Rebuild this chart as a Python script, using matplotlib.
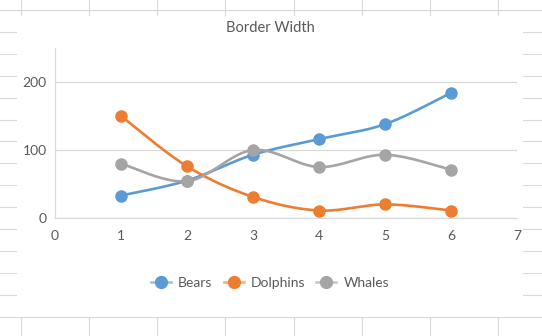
import numpy as np
import matplotlib
matplotlib.use("Agg")
from matplotlib import pyplot as plt
from matplotlib.lines import Line2D
from matplotlib.patches import Rectangle
from matplotlib.colors import to_rgba

x = [1, 2, 3, 4, 5, 6]
bears = [33, 55, 93, 116, 138, 184]
dolphins = [150, 76, 31, 11, 20, 11]
whales = [80, 54, 100, 75, 93, 71]

series = [("Bears", bears, "#5b9bd5"),
          ("Dolphins", dolphins, "#ed7d31"),
          ("Whales", whales, "#a5a5a5")]

W, H = 542, 336
TXT = "#595959"
GRID = "#d9d9d9"

plt.rcParams['font.family'] = ['Lato', 'DejaVu Sans']


def px(xp, yp):
    # pixel (from top-left) -> figure fraction
    return xp / W, 1 - yp / H


def smooth(xs, ys, n=30):
    # excel-like smoothed line (catmull-rom bezier between points)
    p = np.column_stack([xs, ys]).astype(float)
    p = np.vstack([p[0], p, p[-1]])
    out = []
    t = np.linspace(0, 1, n)[:, None]
    for i in range(1, len(p) - 2):
        p0, p1, p2, p3 = p[i - 1], p[i], p[i + 1], p[i + 2]
        c1 = p1 + (p2 - p0) / 6
        c2 = p2 - (p3 - p1) / 6
        seg = ((1 - t) ** 3) * p1 + 3 * ((1 - t) ** 2) * t * c1 \
            + 3 * (1 - t) * t ** 2 * c2 + t ** 3 * p2
        out.append(seg)
    out = np.vstack(out)
    return out[:, 0], out[:, 1]


fig = plt.figure(figsize=(W / 100, H / 100), dpi=100)

# spreadsheet cells behind the chart
for k in range(15):
    yy = 10 + 21.9 * k
    fig.add_artist(Line2D(*zip(px(0, yy), px(W, yy)), transform=fig.transFigure,
                          color=GRID, lw=0.8, zorder=-3))
for j in range(8):
    xx = 20.7 + 68.2 * j
    fig.add_artist(Line2D(*zip(px(xx, 0), px(xx, H)), transform=fig.transFigure,
                          color=GRID, lw=0.8, zorder=-3))
x0, y0 = px(17, 317)
x1, y1 = px(523, 16)
fig.add_artist(Rectangle((x0, y0), x1 - x0, y1 - y0, transform=fig.transFigure,
                         facecolor="white", edgecolor="none", zorder=-2))

l, b = px(55, 218)
r, t = px(517, 48)
ax = fig.add_axes([l, b, r - l, t - b])
ax.patch.set_alpha(0)

for name, vals, col in series:
    sx, sy = smooth(x, vals)
    ax.plot(sx, sy, color=col, lw=1.9, solid_capstyle="round", zorder=3)
    ax.plot(x, vals, "o", color=col, ms=8, zorder=4)

ax.set_xlim(0, 7)
ax.set_ylim(0, 250)
ax.set_xticks(range(8))
ax.set_yticks([0, 100, 200])
ax.grid(axis="y", color=GRID, lw=0.9)
ax.set_axisbelow(True)
for s in ["top", "right"]:
    ax.spines[s].set_visible(False)
for s in ["left", "bottom"]:
    ax.spines[s].set_color(GRID)
    ax.spines[s].set_linewidth(0.9)
ax.tick_params(length=0, labelsize=10, labelcolor=TXT)
ax.tick_params(axis="x", pad=9)
ax.tick_params(axis="y", pad=6)

fig.text(*px(270, 28), "Border Width", ha="center", va="center",
         fontsize=10.5, color=TXT)

# legend lines are drawn paler than the markers
handles = [Line2D([], [], color=to_rgba(col, 0.6), lw=1.9, marker="o", ms=8.5,
                  markerfacecolor=col, markeredgecolor=col)
           for _, _, col in series]
fig.legend(handles, [n for n, _, _ in series], loc="center",
           bbox_to_anchor=px(270, 283), ncol=3, frameon=False,
           fontsize=10, labelcolor=TXT, handlelength=1.45,
           handletextpad=0.5, columnspacing=0.8)

fig.savefig("out.png", dpi=100)
